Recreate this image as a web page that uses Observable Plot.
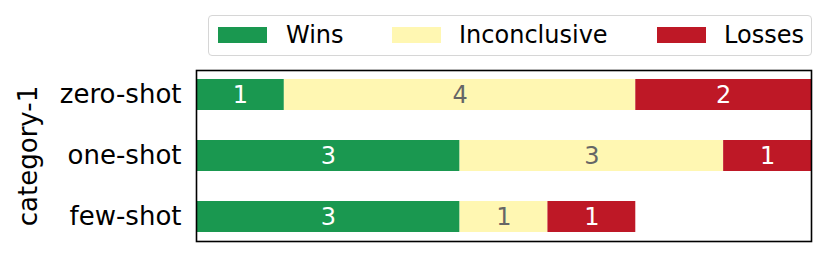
<!DOCTYPE html>
<html>
<head>
<meta charset="utf-8">
<script src="https://cdn.jsdelivr.net/npm/d3@7"></script>
<script src="https://cdn.jsdelivr.net/npm/@observablehq/plot@0.6"></script>
<style>
  body { margin: 0; background: #fff; }
  #wrap { position: relative; width: 830px; height: 256px; font-family: "DejaVu Sans", sans-serif; }
  #legend { position: absolute; left: 208px; top: 15px; width: 602px; height: 39px; border: 1px solid #d6d6d6; border-radius: 4px; background: #fff; }
  .sw { position: absolute; top: 11px; width: 49px; height: 16px; }
  .lt { position: absolute; top: 3px; font-size: 24px; line-height: 32px; color: #000; }
  #chart { position: absolute; left: 0; top: 0; }
</style>
</head>
<body>
<div id="wrap">
  <div id="chart"></div>
  <div id="legend"></div>
</div>
<script>
const categories = ["zero-shot", "one-shot", "few-shot"];
const outcomes = ["Wins", "Inconclusive", "Losses"];
const wins = [1, 3, 3];
const inconclusive = [4, 3, 1];
const losses = [2, 1, 1];
const colors = ["#1a9850", "#fff7b2", "#be1826"];
const textColors = ["#ffffff", "#666666", "#ffffff"];
const yLabel = "category-1";

const series = [wins, inconclusive, losses];
const data = [];
outcomes.forEach((o, i) => {
  categories.forEach((c, j) => {
    data.push({category: c, outcome: o, value: series[i][j], tc: textColors[i]});
  });
});

const chart = Plot.plot({
  width: 830,
  height: 256,
  marginTop: 70,
  marginBottom: 15,
  marginLeft: 196,
  marginRight: 19,
  style: {fontFamily: "DejaVu Sans, sans-serif", fontSize: "26px", background: "transparent", color: "#000"},
  x: {domain: [0, 7], axis: null},
  y: {domain: categories, paddingInner: 0.5, paddingOuter: 0.13, align: 0.5},
  color: {domain: outcomes, range: colors},
  marks: [
    Plot.barX(data, Plot.stackX({x: "value", y: "category", fill: "outcome", z: "outcome", order: outcomes})),
    Plot.text(data, Plot.stackX({x: "value", y: "category", z: "outcome", order: outcomes, text: d => String(d.value), fill: "tc", fontSize: 24})),
    Plot.frame({stroke: "#000", strokeWidth: 1.6}),
    Plot.axisY({tickSize: 7, tickPadding: 8, label: yLabel, labelAnchor: "center", labelOffset: 178, fontSize: 26, stroke: null})
  ]
});
document.getElementById("chart").appendChild(chart);

const legend = document.getElementById("legend");
const swX = [9, 183, 448];
const txX = [77, 250, 515];
outcomes.forEach((o, i) => {
  const s = document.createElement("div");
  s.className = "sw";
  s.style.left = swX[i] + "px";
  s.style.background = colors[i];
  legend.appendChild(s);
  const t = document.createElement("div");
  t.className = "lt";
  t.style.left = txX[i] + "px";
  t.textContent = o;
  legend.appendChild(t);
});
</script>
</body>
</html>
